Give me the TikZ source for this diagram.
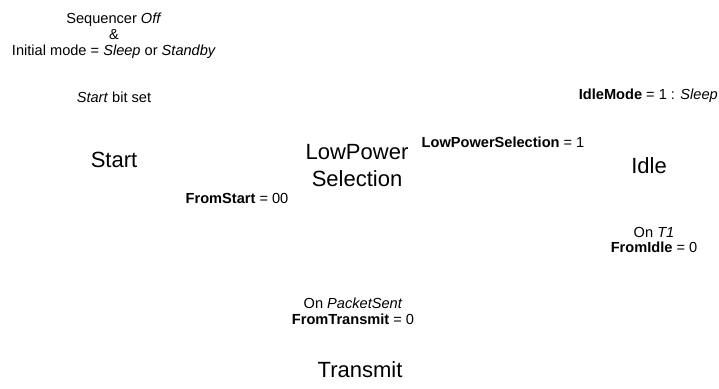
\documentclass[tikz,border=0pt]{standalone}
\usepackage{fontspec}
\setmainfont{Liberation Sans}
\usepackage{tikz}
\usetikzlibrary{positioning}
\tikzset{
  state/.style = {inner sep=0pt, align=center, font=\fontsize{22}{27}\selectfont},
  cond/.style  = {inner sep=0pt, align=center, font=\fontsize{14.6}{15.8}\selectfont},
}
\begin{document}
\begin{tikzpicture}[x=1pt, y=-1pt]
\useasboundingbox (0,0) rectangle (719,388);

% states
\node[state] (start)    at (114,160) {Start};
\node[state] (lowpower) at (357,166) {LowPower\\Selection};
\node[state] (idle)     at (649,166) {Idle};
\node[state] (transmit) at (360,370) {Transmit};

% conditions
\node[cond] (init)      at (114,36) {Sequencer \textit{Off}\\\&\\Initial mode = \textit{Sleep} or \textit{Standby}};
\node[cond] (startbit)  at (114,97) {\textit{Start} bit set};
\node[cond] (fromstart) at (237,198) {\textbf{FromStart} = 00};
\node[cond] (lps)       at (503,142) {\textbf{LowPowerSelection} = 1};
\node[cond, anchor=east] (idlemode) at (718,96) {\textbf{IdleMode} = 1 : \textit{Sleep}};
\node[cond] (ont1)      at (654,240) {On \textit{T1}\\\textbf{FromIdle} = 0};
\node[cond] (onpacket)  at (353,311) {On \textit{PacketSent}\\\textbf{FromTransmit} = 0};

\end{tikzpicture}
\end{document}
